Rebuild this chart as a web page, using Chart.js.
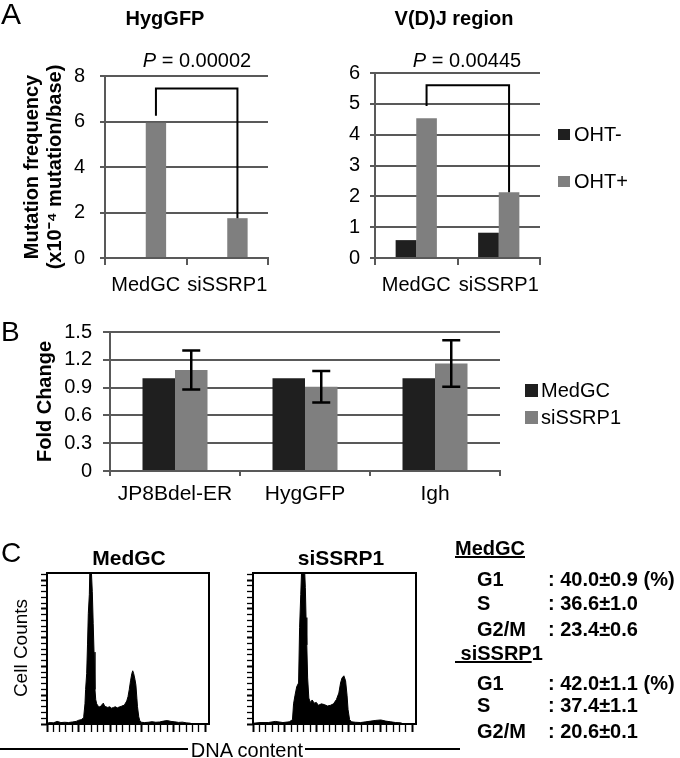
<!DOCTYPE html>
<html>
<head>
<meta charset="utf-8">
<script src="https://cdn.jsdelivr.net/npm/chart.js@4.4.1/dist/chart.umd.min.js"></script>
<style>
    html, body { margin: 0; padding: 0; background: #fff; }
    #fig { position: relative; width: 680px; height: 758px; overflow: hidden; font-family: 'Liberation Sans', Arial, sans-serif; color: #000; }
    canvas { position: absolute; }
    .t { position: absolute; white-space: nowrap; line-height: 1; }
    .c { transform: translateX(-50%); }
    .b { font-weight: bold; }
    .sw { position: absolute; }
    .rule { position: absolute; height: 2px; background: #000; }
</style>
</head>
<body>
<div id="fig">
    <canvas id="chart-hyg" width="330" height="300" style="left:0;top:0"></canvas>
    <canvas id="chart-vdj" width="350" height="300" style="left:330px;top:0"></canvas>
    <canvas id="chart-fold" width="680" height="215" style="left:0;top:300px"></canvas>
    <canvas id="chart-dna-medgc" width="215" height="175" style="left:0;top:565px"></canvas>
    <canvas id="chart-dna-sissrp1" width="210" height="175" style="left:215px;top:565px"></canvas>

    <!-- panel A -->
    <div class="t" style="left:1px;top:-1px;font-size:30px">A</div>
    <div class="t c b" style="left:165px;top:8px;font-size:20px">HygGFP</div>
    <div class="t c b" style="left:454px;top:8px;font-size:20px">V(D)J region</div>
    <div class="t c" style="left:197px;top:50px;font-size:20px"><i>P</i> = 0.00002</div>
    <div class="t c" style="left:467px;top:50px;font-size:20px"><i>P</i> = 0.00445</div>
    <div class="sw" style="left:558px;top:129px;width:12px;height:11px;background:#1f1f1f"></div>
    <div class="t" style="left:574px;top:124px;font-size:20px">OHT-</div>
    <div class="sw" style="left:558px;top:176px;width:12px;height:11px;background:#7f7f7f"></div>
    <div class="t" style="left:574px;top:171px;font-size:20px">OHT+</div>

    <!-- panel B -->
    <div class="t" style="left:1px;top:318px;font-size:28px">B</div>
    <div class="sw" style="left:525px;top:384px;width:13px;height:13px;background:#1f1f1f"></div>
    <div class="t" style="left:541px;top:380px;font-size:20px">MedGC</div>
    <div class="sw" style="left:525px;top:411px;width:13px;height:13px;background:#7f7f7f"></div>
    <div class="t" style="left:541px;top:407px;font-size:20px">siSSRP1</div>

    <!-- panel C -->
    <div class="t" style="left:1px;top:539px;font-size:28px">C</div>
    <div class="t c b" style="left:129px;top:547px;font-size:21px">MedGC</div>
    <div class="t c b" style="left:341px;top:547px;font-size:21px">siSSRP1</div>
    <div class="t" style="left:20px;top:648px;font-size:19px;transform:translate(-50%,-50%) rotate(-90deg)">Cell Counts</div>
    <div class="rule" style="left:0;top:748px;width:188px"></div>
    <div class="rule" style="left:305px;top:748px;width:155px"></div>
    <div class="t c" style="left:247px;top:740px;font-size:20px">DNA content</div>

    <div class="t b" style="left:455px;top:538px;font-size:20px"><u>MedGC</u></div>
    <div class="t b" style="left:477px;top:569px;font-size:20px">G1</div>
    <div class="t b" style="left:548px;top:569px;font-size:20px">: 40.0±0.9 (%)</div>
    <div class="t b" style="left:477px;top:593px;font-size:20px">S</div>
    <div class="t b" style="left:548px;top:593px;font-size:20px">: 36.6±1.0</div>
    <div class="t b" style="left:477px;top:619px;font-size:20px">G2/M</div>
    <div class="t b" style="left:548px;top:619px;font-size:20px">: 23.4±0.6</div>

    <div class="t b" style="left:455px;top:643px;font-size:20px"><u>&nbsp;siSSRP</u>1</div>
    <div class="t b" style="left:477px;top:673px;font-size:20px">G1</div>
    <div class="t b" style="left:548px;top:673px;font-size:20px">: 42.0±1.1 (%)</div>
    <div class="t b" style="left:477px;top:695px;font-size:20px">S</div>
    <div class="t b" style="left:548px;top:695px;font-size:20px">: 37.4±1.1</div>
    <div class="t b" style="left:477px;top:721px;font-size:20px">G2/M</div>
    <div class="t b" style="left:548px;top:721px;font-size:20px">: 20.6±0.1</div>
</div>

<script>
// --- data ---
const mutCategories = ['MedGC', 'siSSRP1'];
const hygOhtMinus = [null, null];
const hygOhtPlus = [5.95, 1.75];
const vdjOhtMinus = [0.58, 0.82];
const vdjOhtPlus = [4.53, 2.13];
// bracket: [start of left leg, top of bracket] in axis units
const hygBracket = [6.25, 7.45];
const vdjBracket = [4.93, 5.6];

const foldCategories = ['JP8Bdel-ER', 'HygGFP', 'Igh'];
const foldMedGC = [1.0, 1.0, 1.0];
const foldSiSSRP1 = [1.09, 0.91, 1.16];
const foldSiSSRP1Err = [0.21, 0.17, 0.25];

const medgcChannel = [0, 5, 10, 16, 22, 28, 34, 40, 46, 50, 54, 57, 58, 60, 61, 62.7, 64, 65.3, 66.9, 68.5, 69.7, 71.6, 73, 74.3, 75.8, 77, 78.5, 80, 82, 84, 86, 89, 91, 93, 96, 99, 102, 105, 108, 111, 114, 117, 120, 122, 126, 128, 130, 132, 134, 135.5, 137, 139, 140.5, 142, 143, 145, 146.5, 149, 154, 160, 166, 172, 178, 184, 190, 196, 202, 208, 214, 220, 226, 230];
const medgcCounts = [0.6, 1, 0.8, 1.8, 1, 1.2, 1, 1.4, 1.8, 2.6, 3, 4, 5, 14, 24, 35, 55, 77, 90, 125, 110, 92, 70, 50, 24, 17, 14, 13, 12, 11.8, 13, 14.5, 12.5, 12, 11.5, 12, 11, 11.5, 12, 11.2, 11.8, 12.2, 12.8, 13, 16, 19, 24, 30, 35, 37, 35, 31, 27, 18, 12, 5, 2.5, 1.2, 1, 1.2, 1.6, 1.2, 1.4, 2, 2.4, 1.8, 1.5, 1.1, 1.3, 0.8, 0.6, 0];

const sissrp1Channel = [0, 11, 24, 35, 47, 57, 62, 63.7, 66, 68.7, 71.6, 73.2, 75, 77, 78.7, 80.6, 82.2, 83.3, 84.5, 85.8, 87.7, 90, 93, 96, 99.5, 102.7, 107.4, 112, 117, 121.7, 126.4, 131, 134.8, 137.5, 139.8, 142.7, 145.4, 147.7, 149.3, 151.7, 154.8, 161, 169, 177, 185, 193, 200.7, 208.6, 216.5, 224, 232, 237];
const sissrp1Counts = [0.5, 1, 1, 1.8, 1, 1.5, 3, 14, 20, 26, 28.5, 67, 90, 115, 130, 112, 95, 74, 55, 32, 18, 15, 16.7, 14.5, 15, 13, 14, 13.5, 12.5, 13, 14, 17, 21.5, 28.5, 32, 33.5, 30, 20, 10, 3, 1.5, 1.2, 1, 1.5, 2, 2.5, 2.8, 2, 1.5, 1, 0.8, 0];

// --- styling ---
Chart.defaults.font.family = "'Liberation Sans', Arial, sans-serif";
Chart.defaults.color = '#000';

const darkBar = '#1f1f1f';
const grayBar = '#7f7f7f';
const gridGray = '#595959';

const bracketPlugin = {
    id: 'bracket',
    afterDatasetsDraw(chart, args, opts) {
        const meta = chart.getDatasetMeta(1);
        const yScale = chart.scales.y;
        const [legStart, top] = opts.levels;
        const left = meta.data[0];
        const right = meta.data[1];
        const ctx = chart.ctx;
        ctx.save();
        ctx.strokeStyle = '#000';
        ctx.lineWidth = 2;
        ctx.beginPath();
        ctx.moveTo(left.x, yScale.getPixelForValue(legStart));
        ctx.lineTo(left.x, yScale.getPixelForValue(top));
        ctx.lineTo(right.x, yScale.getPixelForValue(top));
        ctx.lineTo(right.x, right.y);
        ctx.stroke();
        ctx.restore();
    },
};

const errorBarPlugin = {
    id: 'errorBars',
    afterDatasetsDraw(chart, args, opts) {
        const meta = chart.getDatasetMeta(opts.datasetIndex);
        const yScale = chart.scales.y;
        const ctx = chart.ctx;
        ctx.save();
        ctx.strokeStyle = '#000';
        ctx.lineWidth = 2.5;
        meta.data.forEach((bar, i) => {
            const v = opts.values[i];
            const e = opts.errors[i];
            const yHi = yScale.getPixelForValue(v + e);
            const yLo = yScale.getPixelForValue(v - e);
            ctx.beginPath();
            ctx.moveTo(bar.x, yHi);
            ctx.lineTo(bar.x, yLo);
            ctx.moveTo(bar.x - 9, yHi);
            ctx.lineTo(bar.x + 9, yHi);
            ctx.moveTo(bar.x - 9, yLo);
            ctx.lineTo(bar.x + 9, yLo);
            ctx.stroke();
        });
        ctx.restore();
    },
};

const framePlugin = {
    id: 'frame',
    afterDraw(chart) {
        const a = chart.chartArea;
        const ctx = chart.ctx;
        ctx.save();
        ctx.strokeStyle = '#000';
        ctx.lineWidth = 2;
        ctx.strokeRect(a.left, a.top, a.right - a.left, a.bottom - a.top);
        ctx.restore();
    },
};

function mutationChart(id, minus, plus, bracket, yMax, opts) {
    return new Chart(document.getElementById(id), {
        type: 'bar',
        data: {
            labels: mutCategories,
            datasets: [
                { label: 'OHT-', data: minus, backgroundColor: darkBar },
                { label: 'OHT+', data: plus, backgroundColor: grayBar },
            ],
        },
        options: {
            responsive: false,
            animation: false,
            datasets: { bar: { categoryPercentage: 0.5, barPercentage: 1.0 } },
            layout: { padding: { top: opts.top, right: opts.right, bottom: 0, left: 0 } },
            plugins: {
                legend: { display: false },
                tooltip: { enabled: false },
                bracket: { levels: bracket },
            },
            scales: {
                x: {
                    grid: { offset: true, drawOnChartArea: false, tickLength: 7, color: gridGray, lineWidth: 2 },
                    border: { color: gridGray, width: 2 },
                    ticks: { font: { size: 20 }, padding: 8.5, maxRotation: 0, minRotation: 0, autoSkip: false },
                    afterFit: s => { s.height = 42; },
                },
                y: {
                    min: 0,
                    max: yMax,
                    ticks: { stepSize: opts.step, font: { size: 20 }, padding: opts.tickPad },
                    grid: { color: gridGray, lineWidth: 2, tickLength: 5 },
                    border: { color: gridGray, width: 2 },
                    title: opts.title,
                    afterFit: s => { s.width = opts.yWidth; },
                },
            },
        },
        plugins: [bracketPlugin],
    });
}

mutationChart('chart-hyg', hygOhtMinus, hygOhtPlus, hygBracket, 8, {
    top: 76, right: 62, step: 2, tickPad: 15, yWidth: 105,
    title: {
        display: true,
        text: ['Mutation frequency', '(x10\u207B\u2074 mutation/base)'],
        font: { size: 20, weight: 'bold', lineHeight: '23px' },
        padding: { top: 20.5, bottom: 0 },
    },
});

mutationChart('chart-vdj', vdjOhtMinus, vdjOhtPlus, vdjBracket, 6, {
    top: 73, right: 140, step: 1, tickPad: 10, yWidth: 45,
    title: { display: false },
});

new Chart(document.getElementById('chart-fold'), {
    type: 'bar',
    data: {
        labels: foldCategories,
        datasets: [
            { label: 'MedGC', data: foldMedGC, backgroundColor: darkBar },
            { label: 'siSSRP1', data: foldSiSSRP1, backgroundColor: grayBar },
        ],
    },
    options: {
        responsive: false,
        animation: false,
        datasets: { bar: { categoryPercentage: 0.5, barPercentage: 1.0 } },
        layout: { padding: { top: 32, right: 180, bottom: 0, left: 0 } },
        plugins: {
            legend: { display: false },
            tooltip: { enabled: false },
            errorBars: { datasetIndex: 1, values: foldSiSSRP1, errors: foldSiSSRP1Err },
        },
        scales: {
            x: {
                grid: { offset: true, drawOnChartArea: false, tickLength: 5, color: gridGray, lineWidth: 2 },
                border: { color: gridGray, width: 2 },
                ticks: { font: { size: 21 }, padding: 5.4, maxRotation: 0, minRotation: 0, autoSkip: false },
                afterFit: s => { s.height = 44; },
            },
            y: {
                min: 0,
                max: 1.5,
                ticks: {
                    stepSize: 0.3,
                    font: { size: 20 },
                    padding: 11,
                    callback: v => (Math.round(v * 10) / 10).toString(),
                },
                grid: { color: gridGray, lineWidth: 2, tickLength: 7 },
                border: { color: gridGray, width: 2 },
                title: {
                    display: true,
                    text: 'Fold Change',
                    font: { size: 20, weight: 'bold' },
                    padding: { top: 33, bottom: 0 },
                },
                afterFit: s => { s.width = 110; },
            },
        },
    },
    plugins: [errorBarPlugin],
});

function dnaHistogram(id, channels, counts, yWidth, padRight) {
    return new Chart(document.getElementById(id), {
        type: 'line',
        data: {
            datasets: [{
                data: channels.map((c, i) => ({ x: c, y: counts[i] })),
                borderColor: '#000',
                backgroundColor: '#000',
                borderWidth: 1,
                pointRadius: 0,
                fill: 'origin',
                tension: 0,
            }],
        },
        options: {
            responsive: false,
            animation: false,
            layout: { padding: { top: 8, right: padRight, bottom: 0, left: 0 } },
            plugins: { legend: { display: false }, tooltip: { enabled: false } },
            scales: {
                x: {
                    type: 'linear',
                    min: 0,
                    max: 256,
                    ticks: { display: false, stepSize: 10, includeBounds: false },
                    grid: {
                        drawOnChartArea: false,
                        tickLength: 8,
                        tickColor: '#000',
                        tickWidth: ctx => (ctx.tick && ctx.tick.value % 50 === 0 ? 2 : 1.3),
                    },
                    border: { display: false },
                    afterFit: s => { s.height = 16; },
                },
                y: {
                    min: 0,
                    max: 105,
                    ticks: { display: false, stepSize: 4, includeBounds: false },
                    grid: {
                        drawOnChartArea: false,
                        tickLength: 6,
                        tickColor: '#000',
                        tickWidth: ctx => (ctx.tick && ctx.tick.value % 20 === 0 ? 2 : 1.3),
                    },
                    border: { display: false },
                    afterFit: s => { s.width = yWidth; },
                },
            },
        },
        plugins: [framePlugin],
    });
}

dnaHistogram('chart-dna-medgc', medgcChannel, medgcCounts, 47, 6);
dnaHistogram('chart-dna-sissrp1', sissrp1Channel, sissrp1Counts, 38, 9);
</script>
</body>
</html>
